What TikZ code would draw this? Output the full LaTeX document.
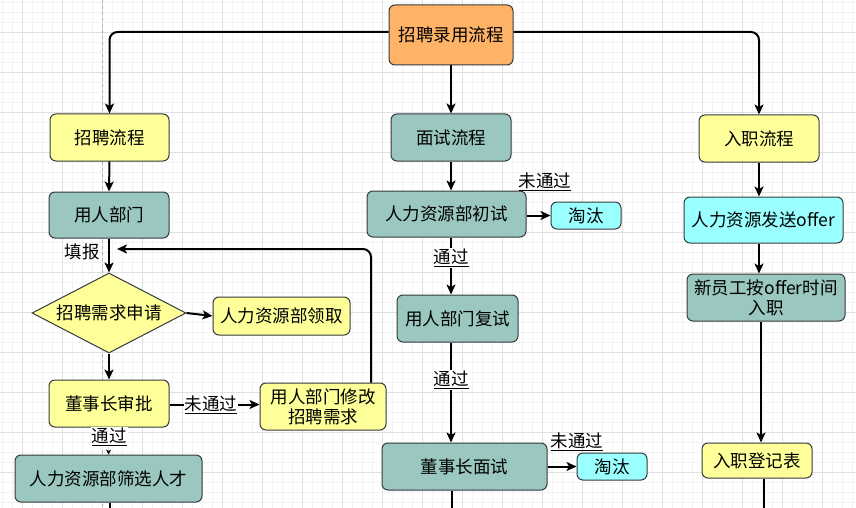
\documentclass[tikz,border=0pt]{standalone}
\usepackage{fontspec}
\setmainfont{Noto Sans CJK SC}
\usetikzlibrary{arrows.meta,shapes.geometric,calc}
\definecolor{cyel}{HTML}{FFFF99}
\definecolor{cteal}{HTML}{9AC7BF}
\definecolor{corange}{HTML}{FFB366}
\definecolor{ccyan}{HTML}{99FFFF}
\definecolor{cedge}{HTML}{36393D}
\definecolor{gminor}{HTML}{F3F3F3}
\definecolor{gmajor}{HTML}{E0E0E0}
\tikzset{
  base/.style={draw=cedge, line width=1pt, rounded corners=6pt, inner sep=0pt, align=center,
    font=\fontsize{17.5pt}{21pt}\selectfont},
  boxy/.style={base, fill=cyel},
  boxt/.style={base, fill=cteal},
  boxc/.style={base, fill=ccyan},
  boxo/.style={base, fill=corange},
  arr/.style={line width=2pt, -{Stealth[length=10pt,width=9pt,inset=2.5pt]}},
  ln/.style={line width=2pt},
  lbl/.style={font=\fontsize{17.5pt}{21pt}\selectfont, inner sep=1pt},
  lblw/.style={lbl, fill=white}
}
\begin{document}
\begin{tikzpicture}[x=1pt,y=-1pt]
\useasboundingbox (0,0) rectangle (856,508);
\fill[white] (0,0) rectangle (856,508);
% grid
\foreach \i in {0,...,85} { \draw[gminor, line width=0.8pt] (2.5+10*\i,0) -- (2.5+10*\i,508); }
\foreach \j in {0,...,50} { \draw[gminor, line width=0.8pt] (0,2.3+10*\j) -- (856,2.3+10*\j); }
\foreach \i in {0,...,21} { \draw[gmajor, line width=0.8pt] (22.5+40*\i,0) -- (22.5+40*\i,508); }
\foreach \j in {0,...,12} { \draw[gmajor, line width=0.8pt] (0,32.3+40*\j) -- (856,32.3+40*\j); }
\draw[gray!60, line width=0.7pt, dash pattern=on 3pt off 3pt] (102.5,0) -- (102.5,508);

% nodes
\node[boxo, minimum width=124pt, minimum height=60pt] (top) at (451,35) {招聘录用流程};
\node[boxy, minimum width=119pt, minimum height=47pt] (zp) at (109.5,137.5) {招聘流程};
\node[boxt, minimum width=120pt, minimum height=47pt] (ms) at (451,137.5) {面试流程};
\node[boxy, minimum width=120pt, minimum height=47pt] (rz) at (759,138.5) {入职流程};

\node[boxt, minimum width=120pt, minimum height=46pt] (yr) at (109,215) {用人部门};
\node[diamond, draw=cedge, line width=1pt, fill=cyel, minimum width=154pt, minimum height=80pt, inner sep=0pt, aspect=1.9,
  font=\fontsize{17.5pt}{21pt}\selectfont] (xq) at (109,313) {招聘需求申请};
\node[boxy, minimum width=137pt, minimum height=38pt] (lq) at (281.5,316) {人力资源部领取};
\node[boxy, minimum width=120pt, minimum height=47pt] (dsz) at (109,403.5) {董事长审批};
\node[boxy, minimum width=126pt, minimum height=47pt, font=\fontsize{17.5pt}{20pt}\selectfont] (xg) at (323,406.5) {用人部门修改\\招聘需求};
\node[boxt, minimum width=187pt, minimum height=47pt] (sx) at (108.5,478.5) {人力资源部筛选人才};

\node[boxt, minimum width=159pt, minimum height=46pt] (cs) at (446.5,214) {人力资源部初试};
\node[boxc, minimum width=70pt, minimum height=27pt] (tt1) at (586,215.5) {淘汰};
\node[boxt, minimum width=121pt, minimum height=47pt] (fs) at (457.5,318.5) {用人部门复试};
\node[boxt, minimum width=165pt, minimum height=47pt] (ds) at (464.5,466.5) {董事长面试};
\node[boxc, minimum width=70pt, minimum height=27pt] (tt2) at (612,466.5) {淘汰};

\node[boxc, minimum width=159pt, minimum height=46pt] (of) at (763.5,220) {人力资源发送offer};
\node[boxt, minimum width=158pt, minimum height=47pt, font=\fontsize{17.5pt}{20pt}\selectfont] (xyg) at (766,297.5) {新员工按offer时间\\入职};
\node[boxy, minimum width=110pt, minimum height=35pt] (djb) at (757,460.5) {入职登记表};

% connectors from top
\draw[arr, rounded corners=8pt] ([yshift=3pt]top.west) -| (zp.north);
\draw[arr, rounded corners=8pt] ([yshift=3pt]top.east) -| (rz.north);
\draw[arr] (top.south) -- (ms.north);

% left column
\draw[arr] (zp.south) -- (yr.north);
\draw[arr] (yr.south) -- (xq.north);
\draw[arr] (xq.east) -- (lq.west);
\draw[arr] (xq.south) -- (dsz.north);
\draw[arr] (dsz.east |- xg.west) ++(0,-2) coordinate (d1) (d1) -- ([yshift=2pt]xg.west);
\coordinate (fb) at (117,249);
\draw[arr, rounded corners=8pt] ([xshift=48pt]xg.north) |- (fb);
\draw[-{Stealth[length=5pt,width=5pt,black]}, line width=0.4pt, gray!40] (dsz.south) -- (sx.north);
\coordinate (b1) at (110,508);
\draw[ln] (sx.south -| b1) -- (b1);

% middle column
\draw[arr] (ms.south) -- (ms.south |- cs.north);
\draw[arr] (cs.east |- tt1.west) -- (tt1.west);
\draw[arr] (ms.south |- cs.south) -- (ms.south |- fs.north);
\draw[arr] (ms.south |- fs.south) -- (ms.south |- ds.north);
\draw[arr] (ds.east) -- (tt2.west);
\coordinate (b2) at (452,508);
\draw[ln] (ds.south -| b2) -- (b2);

% right column
\draw[arr] (rz.south) -- (rz.south |- of.north);
\draw[arr] (rz.south |- of.south) -- (rz.south |- xyg.north);
\draw[arr] ([xshift=2pt]rz.south |- xyg.south) -- ([xshift=2pt]rz.south |- djb.north);
\coordinate (b3) at (764,508);
\draw[ln] (djb.south -| b3) -- (b3);

% labels
\node[lbl] (l1) at (82,252) {填报};
\node[lblw] (l2) at (211,405) {\underline{未通过}};
\node[lblw] (l3) at (109,437) {\underline{通过}};
\node[lbl] (l4) at (545,182) {\underline{未通过}};
\node[lblw] (l5) at (451,258) {\underline{通过}};
\node[lblw] (l6) at (451,380) {\underline{通过}};
\node[lbl] (l7) at (577,442) {\underline{未通过}};
\end{tikzpicture}
\end{document}
